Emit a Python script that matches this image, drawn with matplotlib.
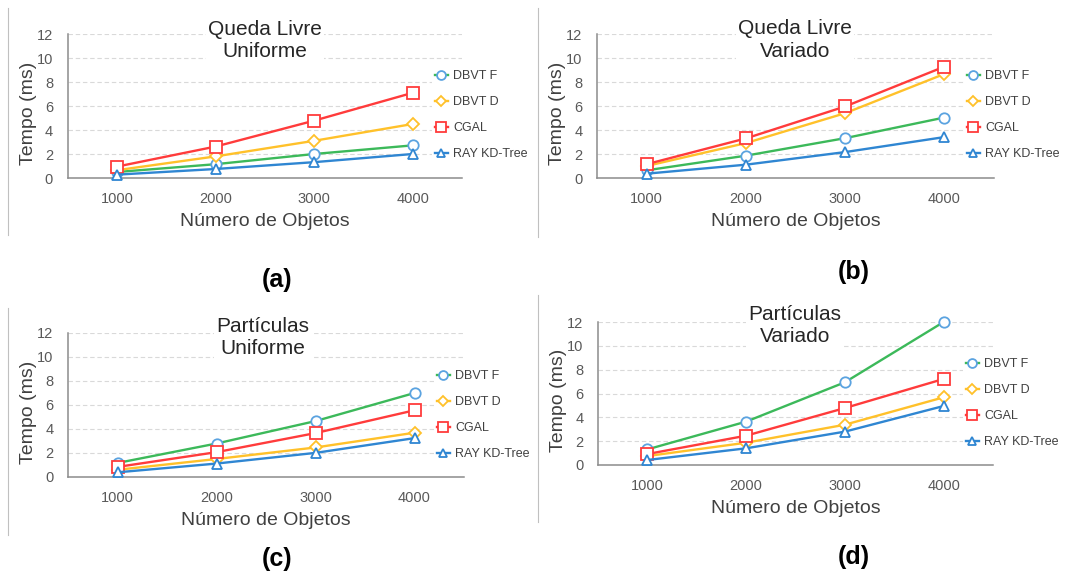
import matplotlib
matplotlib.use('Agg')
import matplotlib.pyplot as plt
from matplotlib.lines import Line2D

plt.rcParams['font.family'] = ['Liberation Sans', 'DejaVu Sans']

# ---------------- data ----------------
categories = ['1000', '2000', '3000', '4000']
series_names = ['DBVT F', 'DBVT D', 'CGAL', 'RAY KD-Tree']
yticks = [0, 2, 4, 6, 8, 10, 12]

a_dbvt_f = [0.50, 1.15, 2.00, 2.72]
a_dbvt_d = [0.65, 1.80, 3.10, 4.50]
a_cgal = [0.95, 2.62, 4.78, 7.10]
a_ray = [0.28, 0.75, 1.32, 2.00]

b_dbvt_f = [0.64, 1.86, 3.32, 5.04]
b_dbvt_d = [1.00, 2.91, 5.40, 8.67]
b_cgal = [1.15, 3.30, 5.96, 9.28]
b_ray = [0.36, 1.11, 2.16, 3.41]

c_dbvt_f = [1.17, 2.79, 4.66, 7.00]
c_dbvt_d = [0.60, 1.50, 2.46, 3.69]
c_cgal = [0.84, 2.07, 3.66, 5.56]
c_ray = [0.39, 1.12, 2.01, 3.24]

d_dbvt_f = [1.31, 3.64, 6.94, 12.00]
d_dbvt_d = [0.75, 1.87, 3.38, 5.68]
d_cgal = [0.92, 2.46, 4.78, 7.22]
d_ray = [0.42, 1.40, 2.80, 4.95]

titles = ['Queda Livre\nUniforme', 'Queda Livre\nVariado',
          'Partículas\nUniforme', 'Partículas\nVariado']
panel_labels = ['(a)', '(b)', '(c)', '(d)']
x_label = 'Número de Objetos'
y_label = 'Tempo (ms)'

panel_data = [
    [a_dbvt_f, a_dbvt_d, a_cgal, a_ray],
    [b_dbvt_f, b_dbvt_d, b_cgal, b_ray],
    [c_dbvt_f, c_dbvt_d, c_cgal, c_ray],
    [d_dbvt_f, d_dbvt_d, d_cgal, d_ray],
]

# ---------------- styles ----------------
line_colors = ['#3cb95a', '#ffc12a', '#ff3b3b', '#2f86d2']
marker_edge = ['#5ba3e0', '#ffc12a', '#ff3b3b', '#2f86d2']
markers = ['o', 'D', 's', '^']
msizes = [7.5, 6, 8, 7.5]

W, H = 1065, 574
fig = plt.figure(figsize=(W / 100, H / 100), dpi=100)

# axes boxes in pixels: left, right, top, bottom
boxes = [(67.7, 462, 34, 178), (597, 994, 34, 178),
         (68, 464, 333, 477), (598, 993, 322, 465)]
title_centers = [(265, 40.5), (795, 40), (263, 337.5), (795, 325.5)]
label_pos = [(277, 280.5), (854, 272), (277, 559), (854, 557)]
legend_center_y = [115, 115, 415, 403]


def fx(x):
    return x / W


def fy(y):
    return 1 - y / H


for i in range(4):
    l, r, t, b = boxes[i]
    ax = fig.add_axes([fx(l), fy(b), (r - l) / W, (b - t) / H])
    xs = list(range(len(categories)))
    for j in range(4):
        ax.plot(xs, panel_data[i][j], color=line_colors[j], lw=1.7,
                marker=markers[j], markersize=msizes[j],
                markerfacecolor='white', markeredgecolor=marker_edge[j],
                markeredgewidth=1.3, label=series_names[j], zorder=3,
                clip_on=False)
    ax.set_xlim(-0.5, len(categories) - 0.5)
    ax.set_ylim(0, 12)
    ax.set_xticks(xs)
    ax.set_xticklabels(categories)
    ax.set_yticks(yticks)
    ax.tick_params(axis='both', length=0, labelsize=10.5, labelcolor='#595959')
    ax.tick_params(axis='x', pad=10)
    ax.tick_params(axis='y', pad=10.5)
    for s in ['top', 'right']:
        ax.spines[s].set_visible(False)
    for s in ['left', 'bottom']:
        ax.spines[s].set_color('#8c8c8c')
        ax.spines[s].set_linewidth(1.1)
    ax.yaxis.grid(True, color='#d9d9d9', linestyle=(0, (4, 2.5)), linewidth=0.8)
    ax.set_axisbelow(True)
    ax.set_ylabel(y_label, fontsize=14, color='#404040')
    ax.set_xlabel(x_label, fontsize=14, color='#404040')
    hpx = b - t
    wpx = r - l
    ax.yaxis.set_label_coords(-30.7 / wpx, 0.5 - 7 / hpx)
    ax.xaxis.set_label_coords(0.5, -35 / hpx)

    # legend
    leg = ax.legend(loc='center left',
                    bbox_to_anchor=(fx(r - 30), fy(legend_center_y[i])),
                    bbox_transform=fig.transFigure,
                    fontsize=9, frameon=True, borderpad=0.2,
                    borderaxespad=0, handlelength=1.1, handletextpad=0.4,
                    labelspacing=1.12, markerscale=0.85)
    leg.get_frame().set_facecolor('white')
    leg.get_frame().set_edgecolor('none')
    leg.get_frame().set_alpha(1)
    for txt in leg.get_texts():
        txt.set_color('#404040')

    # title with white box over gridlines
    tx, ty = title_centers[i]
    fig.text(fx(tx), fy(ty), titles[i], ha='center', va='center',
             fontsize=15, color='#262626', linespacing=1.22,
             bbox=dict(facecolor='white', edgecolor='none', pad=1.5),
             zorder=5)

    # panel label
    px, py = label_pos[i]
    fig.text(fx(px), fy(py), panel_labels[i], ha='center', va='center',
             fontsize=18, fontweight='bold', color='black')

# chart-area borders (left edges)
for (x, y0, y1) in [(8, 8, 235), (8, 308, 535), (538, 8, 237), (538, 295, 522)]:
    fig.add_artist(Line2D([fx(x), fx(x)], [fy(y0), fy(y1)],
                          transform=fig.transFigure, color='#c0c0c0', lw=0.8))

fig.savefig('out.png', dpi=100)
